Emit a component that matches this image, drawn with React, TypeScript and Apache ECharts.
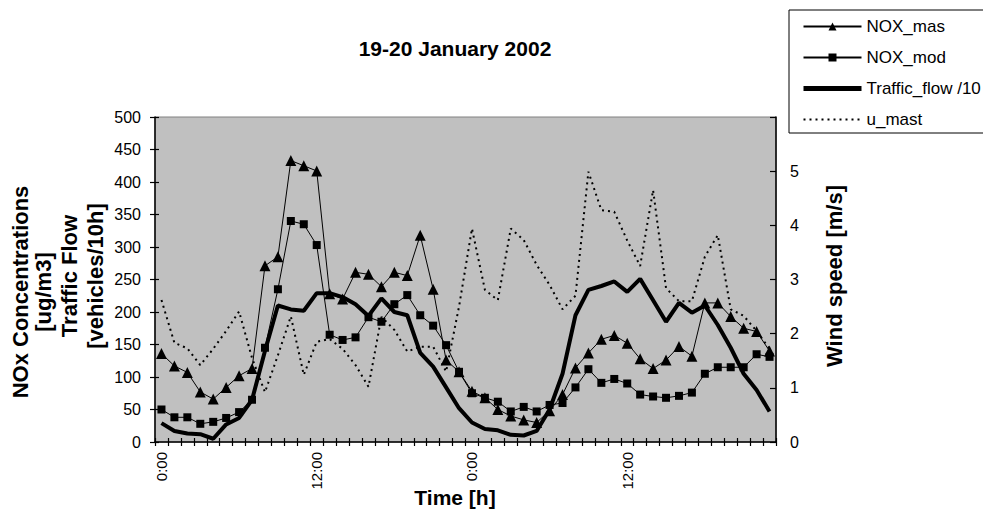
import React, { useEffect, useRef } from "react";
import * as echarts from "echarts";

const categories = [
  "0:00", "1:00", "2:00", "3:00", "4:00", "5:00", "6:00", "7:00", "8:00", "9:00", "10:00", "11:00",
  "12:00", "13:00", "14:00", "15:00", "16:00", "17:00", "18:00", "19:00", "20:00", "21:00", "22:00", "23:00",
  "0:00", "1:00", "2:00", "3:00", "4:00", "5:00", "6:00", "7:00", "8:00", "9:00", "10:00", "11:00",
  "12:00", "13:00", "14:00", "15:00", "16:00", "17:00", "18:00", "19:00", "20:00", "21:00", "22:00", "23:00",
];

const noxMas = [
  136, 117, 107, 77, 66, 84, 102, 113, 271, 285, 433, 425,
  417, 228, 220, 261, 258, 239, 261, 256, 318, 235, 126, 108,
  78, 68, 50, 40, 34, 30, 48, 73, 114, 137, 158, 164,
  152, 128, 113, 126, 147, 132, 214, 214, 193, 175, 170, 140,
];

const noxMod = [
  50, 38, 38, 28, 31, 37, 46, 65, 145, 235, 340, 335,
  303, 165, 157, 161, 192, 185, 212, 226, 195, 179, 149, 108,
  75, 68, 62, 47, 54, 47, 57, 60, 84, 112, 91, 97,
  90, 73, 70, 68, 71, 76, 105, 115, 115, 115, 135, 131,
];

const trafficFlow = [
  29, 17, 13, 12, 5, 27, 37, 65, 140, 210, 204, 202,
  229, 229, 223, 212, 194, 221, 200, 195, 137, 116, 84, 52,
  30, 20, 18, 11, 10, 17, 50, 105, 195, 234, 240, 247,
  231, 251, 218, 185, 214, 199, 210, 180, 145, 105, 80, 47,
];

const uMast = [
  2.62, 1.83, 1.73, 1.42, 1.72, 2.05, 2.41, 1.55, 0.92, 1.6, 2.32, 1.24,
  1.85, 1.9, 1.72, 1.42, 1.02, 2.31, 2.07, 1.67, 1.76, 1.76, 1.3, 2.5,
  3.94, 2.81, 2.62, 3.94, 3.73, 3.27, 2.9, 2.45, 2.7, 4.99, 4.28, 4.25,
  3.72, 3.25, 4.65, 2.84, 2.6, 2.6, 3.42, 3.82, 2.45, 2.33, 2.05, 1.72,
];

const seriesNames = ["NOX_mas", "NOX_mod", "Traffic_flow /10", "u_mast"];

const FONT = '"Liberation Sans", Arial, Helvetica, sans-serif';

export default function App() {
  const ref = useRef<HTMLDivElement>(null);

  useEffect(() => {
    if (!ref.current) return;
    const chart = echarts.init(ref.current, undefined, { renderer: "svg" });
    const black = "#000";
    const boldText = (text: string, x: number, y: number, size: number, rotation = 0, lineHeight?: number) => ({
      type: "text",
      x,
      y,
      rotation,
      style: {
        text,
        fontSize: size,
        fontWeight: "bold",
        fontFamily: FONT,
        lineHeight: lineHeight ?? size,
        fill: black,
        align: "center",
        verticalAlign: "middle",
        textAlign: "center",
        textVerticalAlign: "middle",
      },
    });
    const option: any = {
      animation: false,
      backgroundColor: "#fff",
      textStyle: { fontFamily: FONT, color: black },
      grid: {
        left: 155,
        right: 207,
        top: 117,
        bottom: 73,
        show: true,
        backgroundColor: "#c0c0c0",
        borderColor: "#808080",
        borderWidth: 1,
      },
      legend: {
        orient: "vertical",
        left: 789,
        top: 10,
        backgroundColor: "#fff",
        borderColor: black,
        borderWidth: 1,
        borderRadius: 0,
        padding: [8, 60, 5, 12],
        itemWidth: 58,
        itemHeight: 10,
        itemGap: 14,
        textStyle: { fontSize: 17, color: black, fontFamily: FONT },
        data: [
          { name: seriesNames[0] },
          { name: seriesNames[1] },
          { name: seriesNames[2], itemStyle: { opacity: 0 }, lineStyle: { width: 5, color: black } },
          { name: seriesNames[3], itemStyle: { opacity: 0 } },
        ],
      },
      xAxis: [
        {
          type: "category",
          data: categories,
          boundaryGap: true,
          position: "bottom",
          axisLine: { show: true, onZero: false, lineStyle: { color: black, width: 1.5 } },
          axisTick: { show: true, interval: 0, length: 4, lineStyle: { color: black, width: 1.2 } },
          axisLabel: { interval: 11, rotate: 90, fontSize: 15, color: black, margin: 10, fontFamily: FONT },
          splitLine: { show: false },
        },
        {
          type: "category",
          data: categories,
          boundaryGap: true,
          position: "bottom",
          axisLine: { show: false, onZero: false },
          axisTick: { show: true, inside: true, interval: 0, length: 4, lineStyle: { color: black, width: 1.2 } },
          axisLabel: { show: false },
          splitLine: { show: false },
        },
      ],
      yAxis: [
        {
          type: "value",
          min: 0,
          max: 500,
          interval: 50,
          position: "left",
          axisLine: { show: true, lineStyle: { color: black, width: 1.5 } },
          axisTick: { show: true, length: 5, lineStyle: { color: black, width: 1.2 } },
          axisLabel: { fontSize: 16, color: black, margin: 14, fontFamily: FONT },
          splitLine: { show: false },
        },
        {
          type: "value",
          min: 0,
          max: 6,
          interval: 1,
          position: "right",
          axisLine: { show: true, lineStyle: { color: black, width: 1.5 } },
          axisTick: { show: true, inside: true, length: 6, lineStyle: { color: black, width: 1.2 } },
          axisLabel: {
            fontSize: 16,
            color: black,
            margin: 14,
            fontFamily: FONT,
            formatter: (v: number) => (v === 6 ? "" : String(v)),
          },
          splitLine: { show: false },
        },
        {
          type: "value",
          min: 0,
          max: 500,
          interval: 50,
          position: "left",
          axisLine: { show: false },
          axisTick: { show: true, inside: true, length: 4, lineStyle: { color: black, width: 1.2 } },
          axisLabel: { show: false },
          splitLine: { show: false },
        },
      ],
      series: [
        {
          name: seriesNames[0],
          type: "line",
          xAxisIndex: 0,
          yAxisIndex: 0,
          data: noxMas,
          symbol: "triangle",
          symbolSize: 11,
          showSymbol: true,
          showAllSymbol: true,
          lineStyle: { color: black, width: 1 },
          itemStyle: { color: black },
          z: 3,
        },
        {
          name: seriesNames[1],
          type: "line",
          xAxisIndex: 0,
          yAxisIndex: 0,
          data: noxMod,
          symbol: "rect",
          symbolSize: 8,
          showSymbol: true,
          showAllSymbol: true,
          lineStyle: { color: black, width: 1 },
          itemStyle: { color: black },
          z: 3,
        },
        {
          name: seriesNames[2],
          type: "line",
          xAxisIndex: 0,
          yAxisIndex: 0,
          data: trafficFlow,
          symbol: "none",
          lineStyle: { color: black, width: 4 },
          itemStyle: { color: black },
          z: 3,
        },
        {
          name: seriesNames[3],
          type: "line",
          xAxisIndex: 0,
          yAxisIndex: 1,
          data: uMast,
          symbol: "none",
          lineStyle: { color: black, width: 2, type: [2, 4] },
          itemStyle: { color: black },
          z: 3,
        },
      ],
      graphic: [
        boldText("19-20 January 2002", 455, 48, 21),
        boldText("NOx Concentrations\n[ug/m3]", 32, 292, 22, Math.PI / 2, 23),
        boldText("Traffic Flow\n[vehicles/10h]", 82, 276, 22, Math.PI / 2, 26),
        boldText("Wind speed [m/s]", 834, 276, 22, Math.PI / 2),
        boldText("Time [h]", 455, 497, 21),
      ],
    };
    chart.setOption(option);
    return () => {
      chart.dispose();
    };
  }, []);

  return (
    <div
      ref={ref}
      style={{ position: "fixed", left: 0, top: 0, width: 983, height: 515, background: "#fff" }}
    />
  );
}
